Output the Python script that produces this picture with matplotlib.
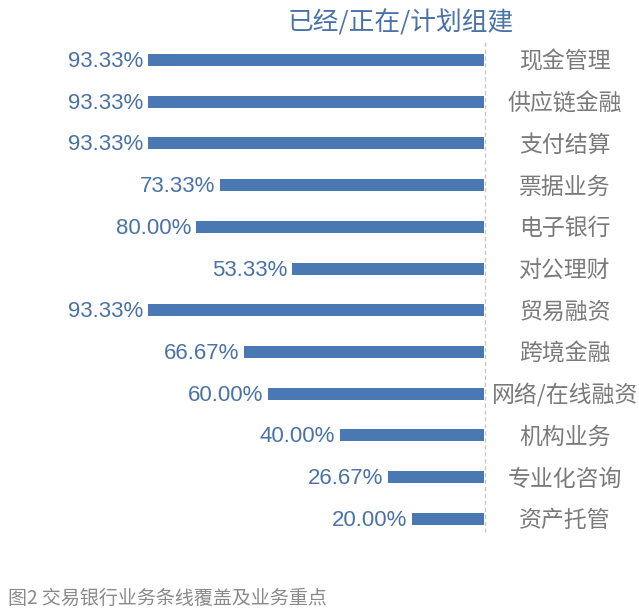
import matplotlib
matplotlib.use('Agg')
import matplotlib.pyplot as plt

plt.rcParams['font.family'] = ['Noto Sans CJK SC', 'DejaVu Sans']

categories = ['现金管理', '供应链金融', '支付结算', '票据业务', '电子银行', '对公理财',
              '贸易融资', '跨境金融', '网络/在线融资', '机构业务', '专业化咨询', '资产托管']
values = [93.33, 93.33, 93.33, 73.33, 80.00, 53.33, 93.33, 66.67, 60.00, 40.00, 26.67, 20.00]
value_labels = ['93.33%', '93.33%', '93.33%', '73.33%', '80.00%', '53.33%',
                '93.33%', '66.67%', '60.00%', '40.00%', '26.67%', '20.00%']

bar_color = '#4a78b2'
text_blue = '#4a72a6'
grey = '#7a7a7a'


def main():
    fig = plt.figure(figsize=(6.39, 6.16), dpi=100)
    ax = fig.add_axes([0, 0, 1, 1])
    px = 3.6  # pixels per percent
    ax.set_xlim(484 / px, -(639 - 484) / px)
    step = 41.7
    ax.set_ylim((616 - 60) / step, -60 / step)
    ax.axis('off')

    y = list(range(len(categories)))
    ax.barh(y, values, height=12 / step, color=bar_color)
    ax.plot([-0.3, -0.3], [-18 / step, 475 / step], color='#c8c8c8',
            linestyle=(0, (3, 2)), linewidth=1)

    for i in y:
        ax.text(values[i] + 1.3, i + 1.5 / step, value_labels[i], ha='right', va='center',
                fontsize=16, color=text_blue, family=['Liberation Sans', 'DejaVu Sans'])
        ax.text(-22.5, i + 2 / step, categories[i], ha='center', va='center',
                fontsize=16.5, color=grey, fontweight='light')

    fig.text(401 / 639, 1 - 23 / 616, '已经/正在/计划组建', ha='center', va='center',
             fontsize=18.5, color=text_blue)
    fig.text(8 / 639, 1 - 598 / 616, '图2 交易银行业务条线覆盖及业务重点', ha='left',
             va='center', fontsize=13.7, color='#8a8a8a')

    fig.savefig('out.png', dpi=100)


main()
